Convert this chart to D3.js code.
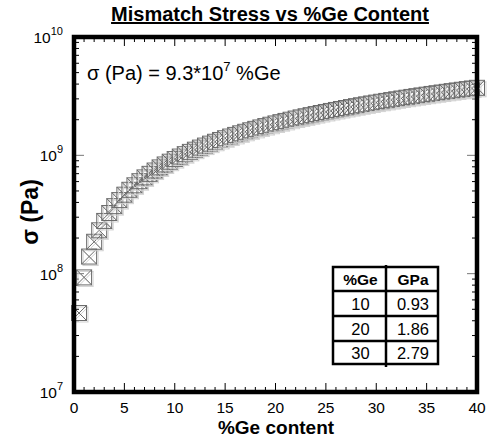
<!DOCTYPE html>
<html>
  <head>
    <meta charset="utf-8">
    <title>Mismatch Stress vs %Ge Content</title>
    <script src="https://d3js.org/d3.v7.min.js"></script>
    <style>
      body { margin: 0; background: #fff; }
      text { font-family: "Liberation Sans", Arial, sans-serif; }
    </style>
  </head>
  <body>
    <script>
      var width = 489;
      var height = 444;
      var plotL = 74, plotR = 477, plotT = 37, plotB = 392;

      // %Ge content and the fitted stress in Pa (9.3e7 Pa per %Ge)
      var geContent = [0.5, 1, 1.5, 2, 2.5, 3, 3.5, 4, 4.5, 5, 5.5, 6, 6.5, 7, 7.5, 8, 8.5, 9, 9.5, 10,
        10.5, 11, 11.5, 12, 12.5, 13, 13.5, 14, 14.5, 15, 15.5, 16, 16.5, 17, 17.5, 18, 18.5, 19, 19.5, 20,
        20.5, 21, 21.5, 22, 22.5, 23, 23.5, 24, 24.5, 25, 25.5, 26, 26.5, 27, 27.5, 28, 28.5, 29, 29.5, 30,
        30.5, 31, 31.5, 32, 32.5, 33, 33.5, 34, 34.5, 35, 35.5, 36, 36.5, 37, 37.5, 38, 38.5, 39, 39.5, 40];
      var stressPa = [4.65e7, 9.3e7, 1.395e8, 1.86e8, 2.325e8, 2.79e8, 3.255e8, 3.72e8, 4.185e8, 4.65e8,
        5.115e8, 5.58e8, 6.045e8, 6.51e8, 6.975e8, 7.44e8, 7.905e8, 8.37e8, 8.835e8, 9.3e8,
        9.765e8, 1.023e9, 1.0695e9, 1.116e9, 1.1625e9, 1.209e9, 1.2555e9, 1.302e9, 1.3485e9, 1.395e9,
        1.4415e9, 1.488e9, 1.5345e9, 1.581e9, 1.6275e9, 1.674e9, 1.7205e9, 1.767e9, 1.8135e9, 1.86e9,
        1.9065e9, 1.953e9, 1.9995e9, 2.046e9, 2.0925e9, 2.139e9, 2.1855e9, 2.232e9, 2.2785e9, 2.325e9,
        2.3715e9, 2.418e9, 2.4645e9, 2.511e9, 2.5575e9, 2.604e9, 2.6505e9, 2.697e9, 2.7435e9, 2.79e9,
        2.8365e9, 2.883e9, 2.9295e9, 2.976e9, 3.0225e9, 3.069e9, 3.1155e9, 3.162e9, 3.2085e9, 3.255e9,
        3.3015e9, 3.348e9, 3.3945e9, 3.441e9, 3.4875e9, 3.534e9, 3.5805e9, 3.627e9, 3.6735e9, 3.72e9];

      var xTicks = [0, 5, 10, 15, 20, 25, 30, 35, 40];
      var yExponents = [7, 8, 9, 10];

      var tableGe = ["10", "20", "30"];
      var tableGPa = ["0.93", "1.86", "2.79"];

      var x = d3.scaleLinear().domain([0, 40]).range([plotL, plotR]);
      var y = d3.scaleLog().domain([1e7, 1e10]).range([plotB, plotT]);

      var svg = d3.select("body").append("svg")
          .attr("width", width)
          .attr("height", height);

      // minor/major ticks, pointing inward on all four sides
      var xMinor = d3.range(0, 41, 1);
      var tickG = svg.append("g").attr("stroke", "#000").attr("stroke-width", 1);
      xMinor.forEach(function(v) {
        var len = v % 5 === 0 ? 9 : 5;
        tickG.append("line").attr("x1", x(v)).attr("x2", x(v))
            .attr("y1", plotB).attr("y2", plotB - len);
        tickG.append("line").attr("x1", x(v)).attr("x2", x(v))
            .attr("y1", plotT).attr("y2", plotT + len);
      });
      var yMinor = [];
      for (var e = 7; e < 10; e++) {
        for (var m = 1; m < 10; m++) yMinor.push(m * Math.pow(10, e));
      }
      yMinor.forEach(function(v) {
        var major = Math.abs(Math.log10(v) % 1) < 1e-9;
        var len = major ? 10 : 5;
        var col = major ? "#777" : "#000";
        tickG.append("line").attr("x1", plotL).attr("x2", plotL + len)
            .attr("y1", y(v)).attr("y2", y(v)).attr("stroke", col);
        tickG.append("line").attr("x1", plotR).attr("x2", plotR - len)
            .attr("y1", y(v)).attr("y2", y(v)).attr("stroke", col);
      });

      // x tick labels
      svg.append("g").selectAll("text")
        .data(xTicks)
        .enter().append("text")
          .attr("x", function(d) { return x(d); })
          .attr("y", 413)
          .attr("text-anchor", "middle")
          .attr("font-size", 15.5)
          .text(function(d) { return d; });

      // y tick labels 10^n
      var yl = svg.append("g").selectAll("text")
        .data(yExponents)
        .enter().append("text")
          .attr("x", plotL - 11)
          .attr("y", function(d) { return y(Math.pow(10, d)) + 6; })
          .attr("text-anchor", "end")
          .attr("font-size", 15.5);
      yl.append("tspan").text("10");
      yl.append("tspan").attr("font-size", 11).attr("dy", -8)
          .text(function(d) { return d; });

      // markers: square with X, light shadow
      var s = 7.5;
      function marker(g, dx, col) {
        g.append("rect")
          .attr("x", -s + dx).attr("y", -s + dx)
          .attr("width", 2 * s).attr("height", 2 * s)
          .attr("fill", "none").attr("stroke", col);
        g.append("path")
          .attr("d", "M" + (-s + dx) + "," + (-s + dx) + "L" + (s + dx) + "," + (s + dx) +
               "M" + (s + dx) + "," + (-s + dx) + "L" + (-s + dx) + "," + (s + dx))
          .attr("fill", "none").attr("stroke", col);
      }
      var pts = svg.append("g").selectAll("g")
        .data(geContent)
        .enter().append("g")
          .attr("transform", function(d, i) {
            return "translate(" + x(d) + "," + y(stressPa[i]) + ")";
          });
      pts.each(function() { marker(d3.select(this), 1.5, "#d2d2d2"); });
      pts.each(function() { marker(d3.select(this), 0, "#6a6a6a"); });

      // frame
      svg.append("rect")
          .attr("x", plotL).attr("y", plotT)
          .attr("width", plotR - plotL).attr("height", plotB - plotT)
          .attr("fill", "none").attr("stroke", "#000").attr("stroke-width", 4.5);

      // title
      svg.append("text")
          .attr("x", 270).attr("y", 21)
          .attr("text-anchor", "middle")
          .attr("font-size", 20).attr("font-weight", "bold")
          .attr("text-decoration", "underline")
          .text("Mismatch Stress vs %Ge Content");

      // axis titles
      svg.append("text")
          .attr("x", 276).attr("y", 434)
          .attr("text-anchor", "middle")
          .attr("font-size", 19).attr("font-weight", "bold")
          .text("%Ge content");
      svg.append("text")
          .attr("transform", "translate(38,212) rotate(-90)")
          .attr("text-anchor", "middle")
          .attr("font-size", 23).attr("font-weight", "bold")
          .text("σ (Pa)");

      // equation annotation
      var eq = svg.append("text")
          .attr("x", 87).attr("y", 80)
          .attr("font-size", 20);
      eq.append("tspan").text("σ (Pa) = 9.3*10");
      eq.append("tspan").attr("font-size", 13).attr("dy", -9).text("7");
      eq.append("tspan").attr("dy", 9).text(" %Ge");

      // inset table
      var tx0 = 333, tx1 = 386, tx2 = 438;
      var rowsY = [267, 291, 316, 341, 364];
      var tg = svg.append("g");
      tg.append("rect").attr("x", tx0).attr("y", rowsY[0])
          .attr("width", tx2 - tx0).attr("height", rowsY[4] - rowsY[0])
          .attr("fill", "#fff").attr("stroke", "#000").attr("stroke-width", 2.5);
      rowsY.slice(1, 4).forEach(function(ry) {
        tg.append("line").attr("x1", tx0).attr("x2", tx2)
            .attr("y1", ry).attr("y2", ry)
            .attr("stroke", "#000").attr("stroke-width", 2.5);
      });
      tg.append("line").attr("x1", tx1).attr("x2", tx1)
          .attr("y1", rowsY[0] - 2).attr("y2", rowsY[4] + 3)
          .attr("stroke", "#000").attr("stroke-width", 2.5);
      var header = ["%Ge", "GPa"];
      var cells = [header].concat(tableGe.map(function(g, i) { return [g, tableGPa[i]]; }));
      cells.forEach(function(row, r) {
        var cy = (rowsY[r] + rowsY[r + 1]) / 2 + 6;
        tg.append("text").attr("x", (tx0 + tx1) / 2 + 1).attr("y", cy)
            .attr("text-anchor", "middle").attr("font-size", r === 0 ? 15.5 : 16.5)
            .attr("font-weight", r === 0 ? "bold" : "normal").text(row[0]);
        tg.append("text").attr("x", (tx1 + tx2) / 2 + 1).attr("y", cy)
            .attr("text-anchor", "middle").attr("font-size", r === 0 ? 15.5 : 16.5)
            .attr("font-weight", r === 0 ? "bold" : "normal").text(row[1]);
      });
    </script>
  </body>
</html>
